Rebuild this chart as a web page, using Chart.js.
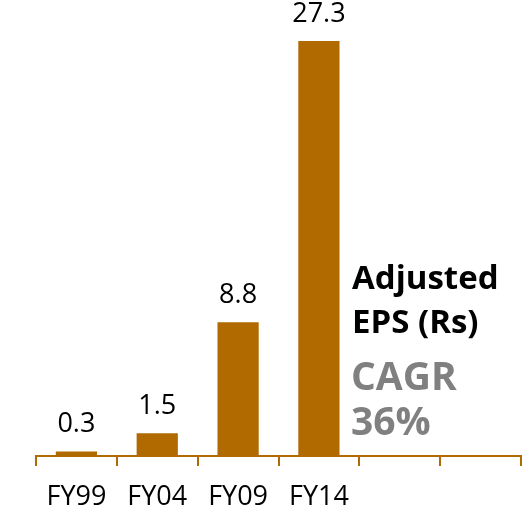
<!DOCTYPE html>
<html>
<head>
<meta charset="utf-8">
<script src="https://cdn.jsdelivr.net/npm/chart.js"></script>
<style>
  html, body { margin: 0; padding: 0; background: #ffffff; }
  #wrap { width: 529px; height: 513px; position: relative; }
</style>
</head>
<body>
<div id="wrap"><canvas id="epsChart" width="529" height="513"></canvas></div>
<script>
// chart data
const years = ['FY99', 'FY04', 'FY09', 'FY14', '', ''];
const epsValues = [0.3, 1.5, 8.8, 27.3, null, null];
const titleLines = ['Adjusted', 'EPS (Rs)'];
const cagrLines = ['CAGR', '36%'];

const barColor = '#B06A00';
const fontFamily = "'Open Sans', 'Noto Sans', sans-serif";

// value labels above bars
const valueLabels = {
    id: 'valueLabels',
    afterDatasetsDraw(chart) {
        const ctx = chart.ctx;
        const meta = chart.getDatasetMeta(0);
        ctx.save();
        ctx.font = '27px ' + fontFamily;
        ctx.fillStyle = '#000000';
        ctx.textAlign = 'center';
        ctx.textBaseline = 'alphabetic';
        meta.data.forEach(function (bar, i) {
            const v = epsValues[i];
            if (v === null) return;
            ctx.fillText(v.toFixed(1), bar.x, bar.y - 19);
        });
        ctx.restore();
    }
};

// side text block
const sideText = {
    id: 'sideText',
    afterDraw(chart) {
        const ctx = chart.ctx;
        ctx.save();
        ctx.textAlign = 'left';
        ctx.textBaseline = 'alphabetic';
        ctx.font = 'bold 33px ' + fontFamily;
        ctx.fillStyle = '#000000';
        ctx.fillText(titleLines[0], 352, 289);
        ctx.fillText(titleLines[1], 352, 333);
        ctx.font = 'bold 39px ' + fontFamily;
        ctx.fillStyle = '#808080';
        ctx.fillText(cagrLines[0], 351, 390);
        ctx.fillText(cagrLines[1], 351, 435);
        ctx.restore();
    }
};

new Chart(document.getElementById('epsChart').getContext('2d'), {
    type: 'bar',
    data: {
        labels: years,
        datasets: [{
            data: epsValues,
            backgroundColor: barColor,
            borderWidth: 0,
            categoryPercentage: 1,
            barPercentage: 0.51
        }]
    },
    options: {
        responsive: false,
        animation: false,
        events: [],
        layout: {
            padding: { top: 0, right: 8, bottom: 0, left: 36 }
        },
        plugins: {
            legend: { display: false },
            tooltip: { enabled: false }
        },
        scales: {
            y: {
                display: false,
                min: 0,
                max: 30
            },
            x: {
                offset: true,
                border: { display: true, color: barColor, width: 2 },
                grid: {
                    offset: true,
                    drawOnChartArea: false,
                    drawTicks: true,
                    tickLength: 10,
                    color: barColor,
                    lineWidth: 2
                },
                ticks: {
                    color: '#000000',
                    padding: 15,
                    maxRotation: 0,
                    font: { family: fontFamily, size: 27 }
                },
                afterFit(scale) {
                    scale.height = 57;
                }
            }
        }
    },
    plugins: [valueLabels, sideText]
});
</script>
</body>
</html>
